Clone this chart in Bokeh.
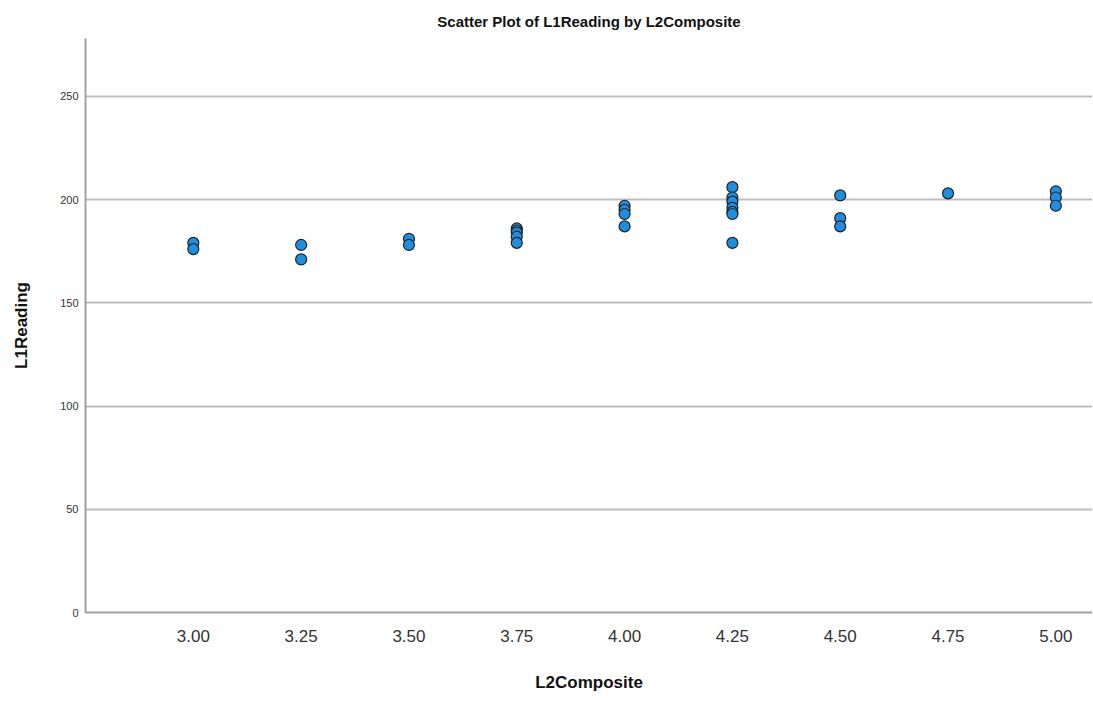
from bokeh.plotting import figure
from bokeh.models import Range1d, FixedTicker, CustomJSTickFormatter
from bokeh.embed import file_html
from bokeh.resources import INLINE

# Data
x_vals = [3.00, 3.00,
          3.25, 3.25,
          3.50, 3.50,
          3.75, 3.75, 3.75, 3.75, 3.75,
          4.00, 4.00, 4.00, 4.00,
          4.25, 4.25, 4.25, 4.25, 4.25, 4.25, 4.25,
          4.50, 4.50, 4.50,
          4.75,
          5.00, 5.00, 5.00]
y_vals = [179, 176,
          178, 171,
          181, 178,
          186, 185, 184, 182, 179,
          197, 195, 193, 187,
          206, 201, 199, 196, 194, 193, 179,
          202, 191, 187,
          203,
          204, 201, 197]
x_ticks = [3.00, 3.25, 3.50, 3.75, 4.00, 4.25, 4.50, 4.75, 5.00]
y_ticks = [0, 50, 100, 150, 200, 250]
title_text = "Scatter Plot of L1Reading by L2Composite"

FONT = "Liberation Sans"
X0, X1 = 2.75, 5.085
Y0, Y1 = 0, 278

p = figure(width=1092, height=700, output_backend="svg", toolbar_location=None,
           x_range=Range1d(X0, X1), y_range=Range1d(Y0, Y1), title=title_text)
p.min_border_left = 85
p.min_border_right = 0
p.min_border_top = 38
p.min_border_bottom = 88
p.outline_line_color = None

p.title.align = "center"
p.title.text_font = FONT
p.title.text_font_size = "15px"
p.title.text_font_style = "bold"
p.title.text_color = "#111111"
p.title.text_line_height = 1.0
p.title.offset = 0
p.title.standoff = 18

p.scatter(x_vals, y_vals, size=11, fill_color="#1e8ee0", line_color="#222222",
          line_width=1.2)

p.xaxis.ticker = FixedTicker(ticks=x_ticks)
p.yaxis.ticker = FixedTicker(ticks=y_ticks)
p.xaxis.formatter = CustomJSTickFormatter(code="return tick.toFixed(2);")

for ax in (p.xaxis, p.yaxis):
    ax.axis_line_color = "#a0a0a0"
    ax.axis_line_width = 2
    ax.major_tick_line_color = None
    ax.minor_tick_line_color = None
    ax.major_tick_out = 0
    ax.major_tick_in = 0
    ax.major_label_text_font = FONT
    ax.major_label_text_color = "#333333"
    ax.axis_label_text_font = FONT
    ax.axis_label_text_font_style = "bold"
    ax.axis_label_text_color = "#111111"
    ax.axis_label_text_font_size = "17px"

p.xaxis.axis_label = "L2Composite"
p.yaxis.axis_label = "L1Reading"
p.xaxis.major_label_text_font_size = "17px"
p.yaxis.major_label_text_font_size = "11px"
p.xaxis.major_label_standoff = 17
p.xaxis.axis_label_standoff = 28
p.yaxis.major_label_standoff = 7
p.yaxis.axis_label_standoff = 26

p.xgrid.grid_line_color = None
p.ygrid.grid_line_color = "#bdbdbd"
p.ygrid.grid_line_width = 2

open("out.html", "w").write(file_html(p, INLINE))
